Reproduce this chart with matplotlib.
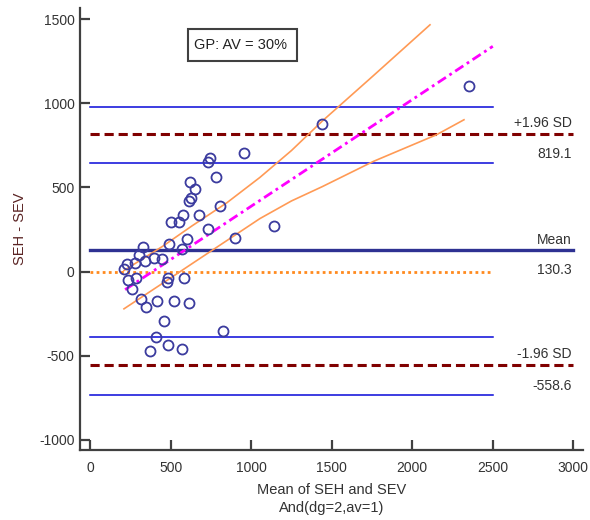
import matplotlib
matplotlib.use("Agg")
import matplotlib.pyplot as plt
from matplotlib.patches import Rectangle

# Bland-Altman data: mean of the two methods vs. their difference
mean_x = [744, 730, 957, 783, 620, 651, 624, 614, 806, 579, 674, 500, 552,
          1143, 730, 901, 600, 490, 570, 330, 305, 227, 281, 339, 397, 446,
          210, 233, 287, 258, 485, 475, 585, 316, 349, 415, 523, 612, 461,
          827, 409, 374, 484, 570, 2354, 1441]
diff_y = [675, 649, 705, 565, 530, 490, 437, 417, 391, 336, 336, 292, 292,
          273, 252, 201, 193, 165, 133, 143, 99, 46, 50, 65, 83, 76,
          14, -51, -36, -103, -36, -63, -38, -161, -210, -176, -176, -185, -292,
          -355, -390, -470, -435, -464, 1105, 877]

mean_diff = 130.3
upper_loa = 819.1
lower_loa = -558.6
upper_loa_ci = [645, 980]
lower_loa_ci = [-735, -390]

# regression of difference on mean, with its confidence band
fit_x = [217, 2500]
fit_y = [-108, 1340]
band_hi_x = [210, 450, 630, 850, 1054, 1250, 1441, 1758, 2110]
band_hi_y = [6, 150, 270, 410, 560, 720, 895, 1165, 1468]
band_lo_x = [210, 450, 630, 850, 1054, 1250, 1441, 1758, 2151, 2321]
band_lo_y = [-222, -70, 45, 185, 315, 420, 505, 655, 814, 903]

x_ticks = [0, 500, 1000, 1500, 2000, 2500, 3000]
y_ticks = [-1000, -500, 0, 500, 1000, 1500]

plt.rcParams["font.family"] = ["Liberation Sans", "DejaVu Sans"]
plt.rcParams["axes.unicode_minus"] = False

W, H = 590, 520
fig = plt.figure(figsize=(W / 100, H / 100), dpi=100)
ax = fig.add_axes([80 / W, (H - 450) / H, (583 - 80) / W, (450 - 8) / H])
ax.set_xlim(-63, 3060)
ax.set_ylim(-1062, 1568)

# reference lines
ax.plot([0, 2500], [0, 0], color="#ff8a1e", lw=2.0, ls=(0, (1, 1.2)), zorder=2)
for v in upper_loa_ci + lower_loa_ci:
    ax.plot([0, 2500], [v, v], color="#0808d8", lw=1.1, zorder=2)
ax.plot([0, 3000], [mean_diff, mean_diff], color="#2e3192", lw=2.4, zorder=2)
for v in (upper_loa, lower_loa):
    ax.plot([0, 3000], [v, v], color="#800000", lw=2.2, ls=(0, (3.0, 1.6)), zorder=2)

ax.plot(band_hi_x, band_hi_y, color="#ff9a55", lw=1.2, zorder=3)
ax.plot(band_lo_x, band_lo_y, color="#ff9a55", lw=1.2, zorder=3)
ax.plot(fit_x, fit_y, color="#ff00ff", lw=2.0, ls=(0, (3.5, 1.5, 1, 1.5)), zorder=3)

ax.plot(mean_x, diff_y, ls="none", marker="o", ms=7.2, mfc="none",
        mec="#3b3b9e", mew=1.3, zorder=4)

# right-hand labels
lab_kw = dict(textcoords="offset points", ha="right", fontsize=10, color="#333333")
ax.annotate("+1.96 SD", (2990, upper_loa), xytext=(0, 3), va="bottom", **lab_kw)
ax.annotate(f"{upper_loa:.1f}", (2990, upper_loa), xytext=(0, -9.5), va="top", **lab_kw)
ax.annotate("Mean", (2990, mean_diff), xytext=(0, 2), va="bottom", **lab_kw)
ax.annotate(f"{mean_diff:.1f}", (2990, mean_diff), xytext=(0, -9.5), va="top", **lab_kw)
ax.annotate("-1.96 SD", (2990, lower_loa), xytext=(0, 3), va="bottom", **lab_kw)
ax.annotate(f"{lower_loa:.1f}", (2990, lower_loa), xytext=(0, -9.5), va="top", **lab_kw)

# axes styling
for s in ("top", "right"):
    ax.spines[s].set_visible(False)
for s in ("left", "bottom"):
    ax.spines[s].set_color("#404040")
    ax.spines[s].set_linewidth(1.6)
ax.set_xticks(x_ticks)
ax.set_yticks(y_ticks)
ax.tick_params(direction="in", length=7, width=1.6, color="#404040",
               labelsize=10, labelcolor="#333333")
ax.tick_params(axis="x", pad=8)
ax.tick_params(axis="y", pad=4)

ax.set_xlabel("Mean of SEH and SEV\nAnd(dg=2,av=1)", fontsize=10.5,
              color="#333333", labelpad=6, linespacing=1.3)
ax.set_ylabel("SEH - SEV", fontsize=10.5, color="#5a2323")
ax.yaxis.set_label_coords(-0.105, 0.5)

# title box
fig.patches.append(Rectangle((188 / W, (H - 61) / H), (297 - 188) / W, (61 - 29) / H,
                             transform=fig.transFigure, fill=False,
                             edgecolor="#404040", lw=1.5))
fig.text(194 / W, (H - 45) / H, "GP: AV = 30%", fontsize=10.5, color="#222222",
         ha="left", va="center")

fig.savefig("out.png", dpi=100, facecolor="white")
